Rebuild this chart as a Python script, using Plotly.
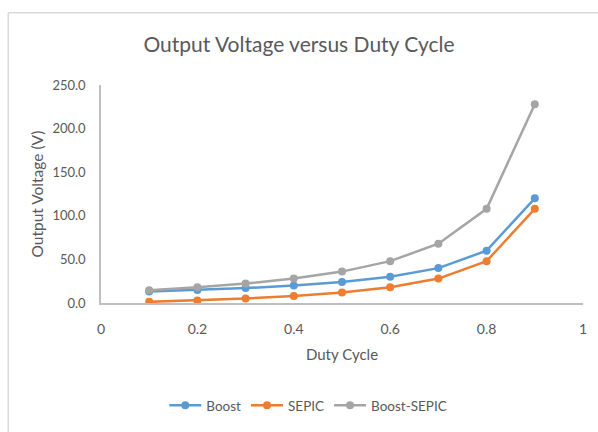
import plotly.graph_objects as go

duty = [0.1, 0.2, 0.3, 0.4, 0.5, 0.6, 0.7, 0.8, 0.9]
boost = [13.3, 15.0, 17.1, 20.0, 24.0, 30.0, 40.0, 60.0, 120.0]
sepic = [1.3, 3.0, 5.1, 8.0, 12.0, 18.0, 28.0, 48.0, 108.0]
boost_sepic = [14.7, 18.0, 22.3, 28.0, 36.0, 48.0, 68.0, 108.0, 228.0]

series = [("Boost", boost, "#5B9BD5"), ("SEPIC", sepic, "#ED7D31"), ("Boost-SEPIC", boost_sepic, "#A5A5A5")]

font_family = "Lato, 'Open Sans', sans-serif"
fig = go.Figure()
for name, vals, col in series:
    fig.add_trace(go.Scatter(x=duty, y=vals, name=name, mode="lines+markers",
                             line=dict(color=col, width=2.5),
                             marker=dict(color=col, size=8)))

fig.update_layout(
    width=598, height=432,
    margin=dict(l=101, r=11, t=85, b=127),
    paper_bgcolor="white", plot_bgcolor="white",
    font=dict(family=font_family, color="#595959", size=13),
    title=dict(text="Output Voltage versus Duty Cycle", x=0.5, xanchor="center",
               y=1 - 45 / 432, yanchor="middle", font=dict(size=21, color="#595959")),
    showlegend=True,
    legend=dict(orientation="h", x=0.43, xanchor="center", y=-0.47, yanchor="middle",
                font=dict(size=13.5, color="#595959"), itemwidth=32),
    xaxis=dict(range=[0, 1], tickvals=[0, 0.2, 0.4, 0.6, 0.8, 1], ticktext=["0", "0.2", "0.4", "0.6", "0.8", "1"],
               showgrid=False, zeroline=False, showline=True, linecolor="#BFBFBF", linewidth=1.5,
               ticks="", ticklabelstandoff=12, tickfont=dict(size=14),
               title=dict(text="Duty Cycle", standoff=14, font=dict(size=15, color="#595959"))),
    yaxis=dict(range=[0, 250], tickvals=[0, 50, 100, 150, 200, 250], tickformat=".1f",
               showgrid=False, zeroline=False, showline=True, linecolor="#BFBFBF", linewidth=1.5,
               ticks="", ticklabelstandoff=11, tickfont=dict(size=13)),
)
fig.add_annotation(text="Output Voltage (V)", xref="paper", yref="paper",
                   x=(36 - 101) / 486, y=(305 - 195) / 220, xanchor="center", yanchor="middle",
                   textangle=-90, showarrow=False, font=dict(size=15.5, color="#595959"))
bx = (7.5 - 101) / 486
by = (305 - 12) / 220
fig.add_shape(type="line", xref="paper", yref="paper", x0=bx, x1=bx, y0=-1, y1=by,
              line=dict(color="#D9D9D9", width=1.5))
fig.add_shape(type="line", xref="paper", yref="paper", x0=bx, x1=1.1, y0=by, y1=by,
              line=dict(color="#D9D9D9", width=1.5))
fig.write_html("out.html")
